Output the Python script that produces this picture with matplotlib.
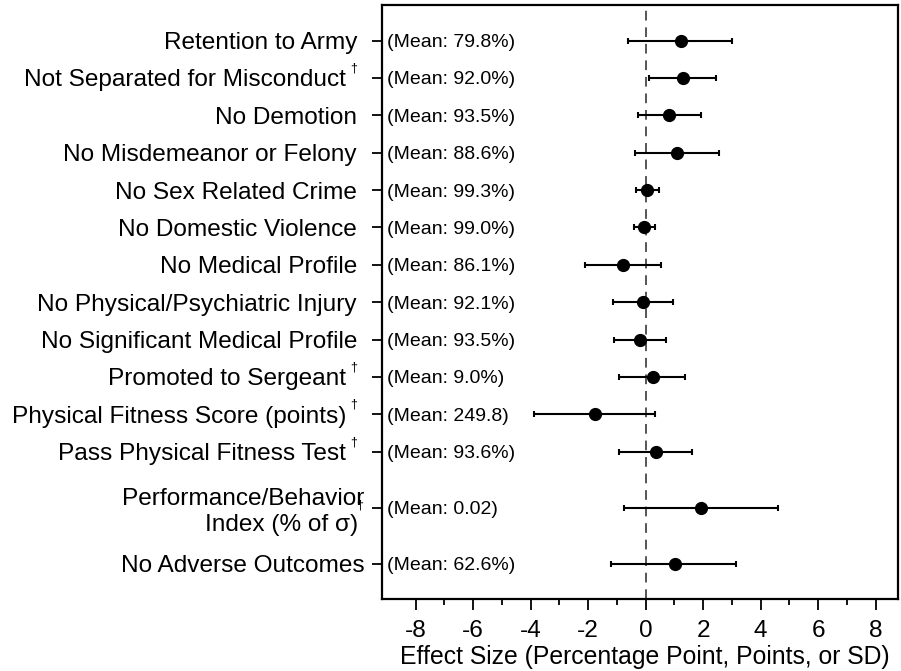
import matplotlib
matplotlib.use("Agg")
import matplotlib.pyplot as plt
from matplotlib.ticker import FixedLocator

plt.rcParams['font.family'] = ['Liberation Sans', 'DejaVu Sans']
plt.rcParams['axes.unicode_minus'] = False

outcomes = [
    "Retention to Army",
    "Not Separated for Misconduct",
    "No Demotion",
    "No Misdemeanor or Felony",
    "No Sex Related Crime",
    "No Domestic Violence",
    "No Medical Profile",
    "No Physical/Psychiatric Injury",
    "No Significant Medical Profile",
    "Promoted to Sergeant",
    "Physical Fitness Score (points)",
    "Pass Physical Fitness Test",
    "Performance/Behavior\nIndex (% of σ) ",
    "No Adverse Outcomes",
]
# outcomes marked with a dagger
dagger = [False, True, False, False, False, False, False,
          False, False, True, True, True, True, False]
means = ["79.8%", "92.0%", "93.5%", "88.6%", "99.3%", "99.0%", "86.1%",
         "92.1%", "93.5%", "9.0%", "249.8", "93.6%", "0.02", "62.6%"]
effect = [1.22, 1.30, 0.82, 1.08, 0.06, -0.06, -0.78,
          -0.08, -0.20, 0.24, -1.76, 0.36, 1.91, 1.01]
ci_low = [-0.63, 0.13, -0.28, -0.37, -0.34, -0.41, -2.12,
          -1.15, -1.09, -0.91, -3.89, -0.94, -0.75, -1.22]
ci_high = [3.01, 2.45, 1.91, 2.54, 0.45, 0.31, 0.53,
           0.96, 0.70, 1.37, 0.32, 1.63, 4.62, 3.13]
rows = [0, 1, 2, 3, 4, 5, 6, 7, 8, 9, 10, 11, 12.5, 14]

fig = plt.figure(figsize=(9.01, 6.71), dpi=100)
ax = fig.add_axes([0.4237, 0.1073, 0.5730, 0.8857])

ax.axvline(0, color='#555555', linestyle=(0, (5, 3.5)), linewidth=1.4, zorder=1)

err = [[e - lo for e, lo in zip(effect, ci_low)],
       [hi - e for e, hi in zip(effect, ci_high)]]
ax.errorbar(effect, rows, xerr=err, fmt='o', color='black', markersize=8.5,
            elinewidth=1.5, capsize=2.4, capthick=1.5, zorder=3)

for y, m in zip(rows, means):
    ax.text(0.01, y, f"(Mean: {m})", transform=ax.get_yaxis_transform(),
            ha='left', va='center_baseline', fontsize=14)

ax.set_xlim(-9.18, 8.78)
ax.set_ylim(14.94, -0.96)
ax.set_xticks(range(-8, 9, 2))
ax.xaxis.set_minor_locator(FixedLocator(range(-7, 8, 2)))
ax.set_yticks(rows)
ax.set_yticklabels(outcomes, fontsize=17.6)
ax.tick_params(axis='y', length=7, width=1.3, pad=10.8)
ax.tick_params(axis='x', which='major', length=8, width=1.3, labelsize=17.6, pad=7)
ax.tick_params(axis='x', which='minor', length=4.5, width=1.3)
ax.set_xlabel("Effect Size (Percentage Point, Points, or SD)", fontsize=17.8,
              labelpad=2, x=0.51, ha='center')

ticks = ax.yaxis.get_major_ticks()
for i, tick in enumerate(ticks):
    if i >= 12:
        tick.set_pad(5.5)
    elif dagger[i]:
        tick.set_pad(18.5)

for i, tick in enumerate(ticks):
    if not dagger[i]:
        continue
    if i == 12:
        ax.annotate("\u2020", xy=(1, 0.5), xycoords=tick.label1,
                    xytext=(-6, 9), textcoords='offset points',
                    ha='left', va='top', fontsize=9, annotation_clip=False)
    else:
        ax.annotate("\u2020", xy=(1, 1), xycoords=tick.label1,
                    xytext=(3, 5), textcoords='offset points',
                    ha='left', va='top', fontsize=9, annotation_clip=False)

for s in ax.spines.values():
    s.set_linewidth(1.6)

plt.savefig("out.png", dpi=100)
